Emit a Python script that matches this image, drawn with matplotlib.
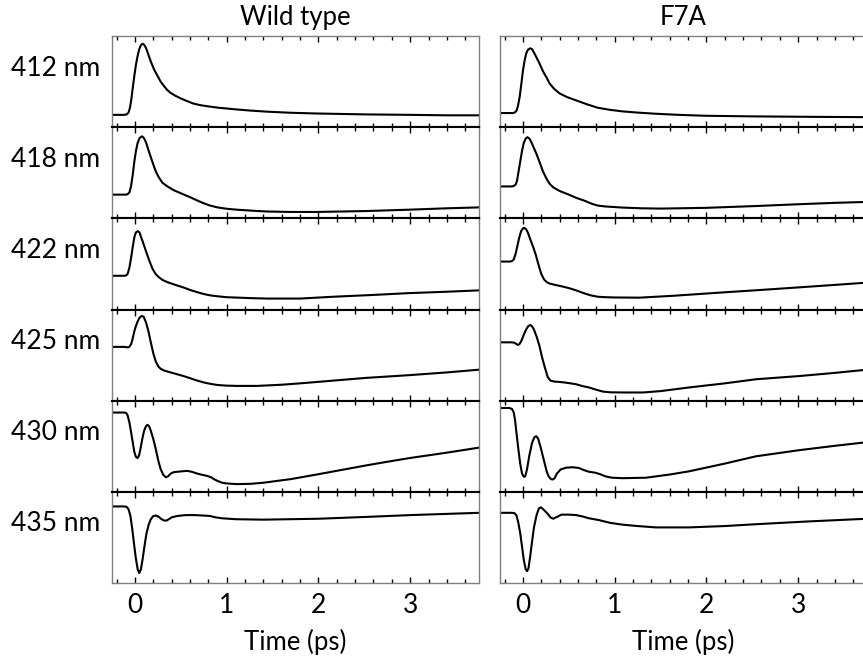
import matplotlib
matplotlib.use("Agg")
import matplotlib.pyplot as plt
from matplotlib.ticker import MultipleLocator, FixedLocator

plt.rcParams['font.family'] = ['Lato', 'DejaVu Sans']
plt.rcParams['xtick.labelsize'] = 19

columns = ["Wild type", "F7A"]
wavelengths = ["412 nm", "418 nm", "422 nm", "425 nm", "430 nm", "435 nm"]
xlabel = "Time (ps)"
major_ticks = [0, 1, 2, 3]

# ---- Wild type traces (normalized, arbitrary units) ----
wt412_t = [-0.25, -0.12, -0.09, -0.07, -0.055, -0.043, -0.025, -0.007, 0.01, 0.029, 0.045, 0.065, 0.085, 0.1, 0.12, 0.145, 0.173, 0.21, 0.245, 0.28, 0.318, 0.35, 0.39, 0.44, 0.5, 0.57, 0.64, 0.72, 0.82, 0.92, 1.0, 1.1, 1.26, 1.44, 1.7, 1.98, 2.25, 2.52, 3.0, 3.4, 3.75]
wt412_y = [0.135, 0.135, 0.14, 0.16, 0.21, 0.28, 0.42, 0.56, 0.68, 0.78, 0.85, 0.90, 0.915, 0.905, 0.87, 0.80, 0.72, 0.63, 0.565, 0.50, 0.45, 0.41, 0.375, 0.345, 0.315, 0.285, 0.258, 0.24, 0.225, 0.212, 0.205, 0.195, 0.182, 0.17, 0.158, 0.15, 0.145, 0.14, 0.135, 0.13, 0.13]

wt418_t = [-0.25, -0.1, -0.08, -0.06, -0.043, -0.025, -0.007, 0.011, 0.03, 0.05, 0.076, 0.095, 0.12, 0.15, 0.19, 0.225, 0.26, 0.3, 0.354, 0.42, 0.5, 0.606, 0.68, 0.75, 0.82, 0.9, 1.0, 1.11, 1.26, 1.44, 1.7, 1.98, 2.25, 2.52, 2.99, 3.4, 3.75]
wt418_y = [0.26, 0.26, 0.265, 0.285, 0.35, 0.47, 0.62, 0.74, 0.83, 0.88, 0.90, 0.885, 0.835, 0.74, 0.62, 0.52, 0.45, 0.39, 0.35, 0.31, 0.275, 0.23, 0.195, 0.165, 0.14, 0.12, 0.105, 0.095, 0.085, 0.075, 0.07, 0.07, 0.075, 0.08, 0.095, 0.11, 0.12]

wt422_t = [-0.25, -0.115, -0.095, -0.08, -0.06, -0.043, -0.025, -0.007, 0.01, 0.03, 0.05, 0.065, 0.09, 0.12, 0.155, 0.19, 0.225, 0.26, 0.3, 0.354, 0.44, 0.534, 0.6, 0.68, 0.75, 0.82, 0.9, 1.0, 1.26, 1.44, 1.8, 2.16, 2.6, 2.99, 3.4, 3.75]
wt422_y = [0.37, 0.37, 0.375, 0.39, 0.46, 0.56, 0.68, 0.79, 0.845, 0.86, 0.845, 0.80, 0.73, 0.64, 0.54, 0.45, 0.39, 0.355, 0.325, 0.30, 0.27, 0.24, 0.215, 0.19, 0.17, 0.155, 0.145, 0.135, 0.125, 0.12, 0.12, 0.14, 0.16, 0.18, 0.195, 0.21]

wt425_t = [-0.25, -0.115, -0.08, -0.06, -0.04, -0.025, -0.007, 0.011, 0.03, 0.05, 0.075, 0.095, 0.12, 0.145, 0.173, 0.2, 0.227, 0.255, 0.28, 0.32, 0.37, 0.46, 0.53, 0.606, 0.68, 0.75, 0.82, 0.9, 1.0, 1.11, 1.33, 1.6, 1.8, 2.16, 2.52, 2.99, 3.4, 3.75]
wt425_y = [0.59, 0.59, 0.585, 0.59, 0.625, 0.68, 0.76, 0.82, 0.87, 0.91, 0.93, 0.92, 0.86, 0.77, 0.64, 0.52, 0.43, 0.375, 0.35, 0.33, 0.315, 0.29, 0.27, 0.245, 0.22, 0.20, 0.185, 0.172, 0.165, 0.162, 0.162, 0.175, 0.19, 0.22, 0.25, 0.28, 0.31, 0.34]

wt430_t = [-0.25, -0.115, -0.095, -0.08, -0.06, -0.043, -0.025, -0.007, 0.01, 0.029, 0.045, 0.058, 0.08, 0.1, 0.12, 0.137, 0.155, 0.173, 0.2, 0.227, 0.255, 0.28, 0.31, 0.336, 0.36, 0.39, 0.42, 0.46, 0.51, 0.57, 0.62, 0.68, 0.74, 0.787, 0.83, 0.86, 0.9, 0.95, 1.0, 1.11, 1.26, 1.4, 1.7, 1.98, 2.25, 2.52, 2.75, 2.99, 3.4, 3.75]
wt430_y = [0.87, 0.87, 0.865, 0.84, 0.76, 0.66, 0.55, 0.44, 0.385, 0.37, 0.40, 0.46, 0.58, 0.67, 0.72, 0.735, 0.72, 0.67, 0.58, 0.47, 0.34, 0.25, 0.185, 0.16, 0.17, 0.20, 0.215, 0.22, 0.225, 0.23, 0.22, 0.20, 0.185, 0.175, 0.16, 0.14, 0.12, 0.10, 0.092, 0.085, 0.088, 0.10, 0.14, 0.19, 0.24, 0.29, 0.33, 0.37, 0.43, 0.485]

wt435_t = [-0.25, -0.115, -0.09, -0.07, -0.05, -0.03, -0.01, 0.01, 0.03, 0.047, 0.065, 0.085, 0.105, 0.125, 0.15, 0.173, 0.2, 0.23, 0.26, 0.29, 0.32, 0.345, 0.37, 0.4, 0.46, 0.55, 0.65, 0.75, 0.82, 0.88, 0.95, 1.1, 1.4, 2.0, 2.52, 3.0, 3.75]
wt435_y = [0.84, 0.84, 0.835, 0.81, 0.74, 0.60, 0.43, 0.27, 0.15, 0.11, 0.15, 0.27, 0.41, 0.54, 0.64, 0.70, 0.735, 0.74, 0.725, 0.70, 0.685, 0.685, 0.70, 0.72, 0.735, 0.745, 0.745, 0.74, 0.735, 0.72, 0.71, 0.70, 0.695, 0.705, 0.725, 0.745, 0.77]

# ---- F7A traces ----
f412_t = [-0.25, -0.11, -0.09, -0.07, -0.055, -0.036, -0.018, 0.0, 0.018, 0.036, 0.055, 0.08, 0.1, 0.125, 0.15, 0.18, 0.22, 0.26, 0.29, 0.34, 0.40, 0.48, 0.58, 0.7, 0.815, 0.95, 1.087, 1.25, 1.45, 1.7, 1.99, 2.54, 3.2, 3.75]
f412_y = [0.155, 0.155, 0.16, 0.18, 0.23, 0.33, 0.47, 0.62, 0.73, 0.81, 0.85, 0.865, 0.855, 0.81, 0.76, 0.70, 0.61, 0.54, 0.48, 0.42, 0.37, 0.33, 0.294, 0.25, 0.213, 0.19, 0.173, 0.16, 0.147, 0.135, 0.125, 0.118, 0.113, 0.11]

f418_t = [-0.25, -0.12, -0.1, -0.08, -0.065, -0.05, -0.03, -0.01, 0.01, 0.03, 0.05, 0.07, 0.09, 0.12, 0.15, 0.18, 0.22, 0.26, 0.29, 0.33, 0.4, 0.5, 0.58, 0.68, 0.75, 0.815, 0.9, 1.087, 1.3, 1.5, 1.99, 2.54, 3.01, 3.4, 3.75]
f418_y = [0.35, 0.35, 0.355, 0.37, 0.41, 0.50, 0.62, 0.74, 0.83, 0.875, 0.89, 0.875, 0.84, 0.77, 0.70, 0.62, 0.51, 0.43, 0.38, 0.34, 0.30, 0.26, 0.225, 0.19, 0.16, 0.14, 0.13, 0.118, 0.11, 0.107, 0.115, 0.135, 0.155, 0.17, 0.18]

f422_t = [-0.25, -0.145, -0.12, -0.1, -0.08, -0.06, -0.04, -0.02, 0.0, 0.015, 0.035, 0.055, 0.08, 0.11, 0.14, 0.17, 0.2, 0.23, 0.26, 0.29, 0.35, 0.42, 0.5, 0.58, 0.66, 0.74, 0.815, 0.9, 1.0, 1.27, 1.63, 2.17, 2.6, 3.01, 3.4, 3.75]
f422_y = [0.526, 0.526, 0.53, 0.55, 0.61, 0.70, 0.79, 0.86, 0.89, 0.895, 0.88, 0.84, 0.77, 0.69, 0.60, 0.49, 0.39, 0.33, 0.30, 0.285, 0.27, 0.255, 0.235, 0.21, 0.18, 0.155, 0.14, 0.135, 0.132, 0.13, 0.15, 0.187, 0.215, 0.243, 0.27, 0.295]

f425_t = [-0.25, -0.12, -0.09, -0.07, -0.055, -0.04, -0.02, 0.0, 0.02, 0.04, 0.06, 0.08, 0.1, 0.12, 0.15, 0.18, 0.21, 0.24, 0.27, 0.3, 0.34, 0.4, 0.45, 0.52, 0.58, 0.65, 0.72, 0.8, 0.87, 0.95, 1.087, 1.31, 1.5, 1.81, 2.2, 2.54, 3.01, 3.4, 3.75]
f425_y = [0.64, 0.64, 0.635, 0.62, 0.612, 0.618, 0.65, 0.70, 0.75, 0.79, 0.82, 0.83, 0.815, 0.78, 0.70, 0.60, 0.47, 0.36, 0.26, 0.22, 0.21, 0.205, 0.20, 0.19, 0.18, 0.16, 0.145, 0.12, 0.10, 0.092, 0.09, 0.09, 0.105, 0.145, 0.19, 0.235, 0.27, 0.305, 0.34]

f430_t = [-0.25, -0.15, -0.12, -0.1, -0.085, -0.072, -0.05, -0.03, -0.01, 0.01, 0.025, 0.045, 0.07, 0.1, 0.125, 0.145, 0.165, 0.19, 0.215, 0.235, 0.26, 0.28, 0.305, 0.325, 0.345, 0.37, 0.41, 0.47, 0.54, 0.61, 0.66, 0.72, 0.79, 0.85, 0.9, 0.97, 1.087, 1.34, 1.6, 1.81, 2.2, 2.54, 3.01, 3.4, 3.75]
f430_y = [0.92, 0.92, 0.91, 0.87, 0.78, 0.66, 0.47, 0.31, 0.20, 0.165, 0.17, 0.25, 0.40, 0.54, 0.60, 0.61, 0.585, 0.50, 0.40, 0.32, 0.22, 0.17, 0.14, 0.135, 0.15, 0.20, 0.245, 0.265, 0.27, 0.262, 0.24, 0.22, 0.21, 0.19, 0.17, 0.155, 0.15, 0.155, 0.19, 0.225, 0.31, 0.39, 0.457, 0.505, 0.545]

f435_t = [-0.25, -0.12, -0.09, -0.07, -0.05, -0.03, -0.01, 0.01, 0.03, 0.045, 0.06, 0.08, 0.1, 0.12, 0.15, 0.175, 0.195, 0.22, 0.26, 0.3, 0.33, 0.37, 0.42, 0.5, 0.58, 0.65, 0.72, 0.83, 0.95, 1.087, 1.25, 1.45, 1.81, 2.2, 2.54, 3.1, 3.75]
f435_y = [0.77, 0.77, 0.765, 0.74, 0.66, 0.55, 0.40, 0.25, 0.15, 0.13, 0.16, 0.30, 0.46, 0.61, 0.75, 0.82, 0.83, 0.81, 0.77, 0.72, 0.705, 0.725, 0.75, 0.75, 0.745, 0.73, 0.71, 0.69, 0.66, 0.64, 0.625, 0.61, 0.61, 0.625, 0.645, 0.675, 0.705]

traces = [
    [(wt412_t, wt412_y), (wt418_t, wt418_y), (wt422_t, wt422_y), (wt425_t, wt425_y), (wt430_t, wt430_y), (wt435_t, wt435_y)],
    [(f412_t, f412_y), (f418_t, f418_y), (f422_t, f422_y), (f425_t, f425_y), (f430_t, f430_y), (f435_t, f435_y)],
]

W, H = 863, 659
fig = plt.figure(figsize=(W / 100, H / 100), dpi=100)

col_left = [112, 500]
col_width = 367
top0 = 36
row_h = 91.17

gray = '#7f7f7f'
for c in range(2):
    for r in range(6):
        top = top0 + r * row_h
        ax = fig.add_axes([col_left[c] / W, 1 - (top + row_h) / H, col_width / W, row_h / H])
        t, y = traces[c][r]
        ax.plot(t, y, color='black', lw=1.5, solid_joinstyle='round', solid_capstyle='round')
        ax.set_xlim(-0.25, 3.75)
        ax.set_ylim(0, 1)
        ax.set_yticks([])
        ax.xaxis.set_major_locator(FixedLocator(major_ticks))
        ax.xaxis.set_minor_locator(MultipleLocator(0.2))
        ax.tick_params(axis='x', which='both', direction='in', top=True, bottom=True,
                       color='black', width=1.0)
        ax.tick_params(axis='x', which='major', length=4.5)
        ax.tick_params(axis='x', which='minor', length=2.6)
        for s in ['left', 'right']:
            ax.spines[s].set_color(gray)
            ax.spines[s].set_linewidth(1.0)
        ax.spines['top'].set_color('black' if r > 0 else gray)
        ax.spines['top'].set_linewidth(1.5 if r > 0 else 1.0)
        ax.spines['bottom'].set_color('black' if r < 5 else gray)
        ax.spines['bottom'].set_linewidth(1.5 if r < 5 else 1.0)
        if r < 5:
            ax.tick_params(axis='x', labelbottom=False)
        else:
            ax.tick_params(axis='x', which='major', pad=7, labelsize=19)
        if c == 0:
            fig.text(100 / W, 1 - (top + 39.5) / H, wavelengths[r], ha='right', va='baseline', fontsize=19)
    cx = (col_left[c] + col_width / 2) / W
    fig.text(cx, 1 - 25 / H, columns[c], ha='center', va='baseline', fontsize=18.5)
    fig.text(cx, 1 - 650 / H, xlabel, ha='center', va='baseline', fontsize=18.5)

fig.savefig('out.png', dpi=100)
